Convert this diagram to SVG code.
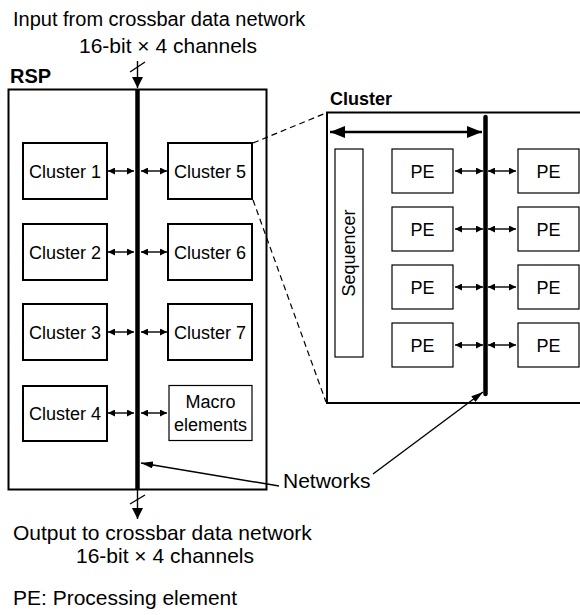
<svg xmlns="http://www.w3.org/2000/svg" width="580" height="615" viewBox="0 0 580 615">
<defs>
<style>
text{font-family:"Liberation Sans",Arial,sans-serif;fill:#000}
.lbl{font-size:20px}
.lbl2{font-size:21px}
.cl{font-size:18px}
.pe{font-size:18px}
.bold{font-weight:bold}
.thick{fill:#fff;stroke:#000;stroke-width:2}
.thin{fill:#fff;stroke:#000;stroke-width:1.2}
.ln{stroke:#000;stroke-width:1.4;fill:none}
.bus{stroke:#000;stroke-width:4.5;fill:none}
.dash{stroke:#000;stroke-width:1.2;fill:none;stroke-dasharray:6,4}
</style>
<marker id="sa" viewBox="0 0 10 10" refX="10" refY="5" markerWidth="7" markerHeight="7" markerUnits="userSpaceOnUse" orient="auto-start-reverse"><path d="M0,0 L10,5 L0,10 z" fill="#000"/></marker>
<marker id="ba" viewBox="0 0 10 10" refX="10" refY="5" markerWidth="11" markerHeight="11" markerUnits="userSpaceOnUse" orient="auto"><path d="M0,0 L10,5 L0,10 z" fill="#000"/></marker>
<marker id="ha" viewBox="0 0 10 10" refX="10" refY="5" markerWidth="15" markerHeight="12" markerUnits="userSpaceOnUse" orient="auto-start-reverse" preserveAspectRatio="none"><path d="M0,0 L10,5 L0,10 z" fill="#000"/></marker>
<marker id="na" viewBox="0 0 10 10" refX="10" refY="5" markerWidth="12" markerHeight="7" markerUnits="userSpaceOnUse" orient="auto" preserveAspectRatio="none"><path d="M0,0 L10,5 L0,10 z" fill="#000"/></marker>
</defs>

<g id="rsp">
<rect class="thick" x="8.5" y="89.5" width="258" height="400"/>
<text class="lbl bold" x="10" y="83">RSP</text>
</g>

<g id="cluster1"><rect class="thick" x="23" y="143" width="84" height="56"/><text class="cl" x="65" y="177.5" text-anchor="middle">Cluster 1</text></g>
<g id="cluster2"><rect class="thick" x="23" y="224" width="84" height="56"/><text class="cl" x="65" y="258.5" text-anchor="middle">Cluster 2</text></g>
<g id="cluster3"><rect class="thick" x="23" y="304" width="84" height="56"/><text class="cl" x="65" y="338.5" text-anchor="middle">Cluster 3</text></g>
<g id="cluster4"><rect class="thick" x="23" y="386" width="84" height="55"/><text class="cl" x="65" y="420" text-anchor="middle">Cluster 4</text></g>
<g id="cluster5"><rect class="thick" x="168" y="143" width="84" height="56"/><text class="cl" x="210" y="177.5" text-anchor="middle">Cluster 5</text></g>
<g id="cluster6"><rect class="thick" x="168" y="224" width="84" height="56"/><text class="cl" x="210" y="258.5" text-anchor="middle">Cluster 6</text></g>
<g id="cluster7"><rect class="thick" x="168" y="304" width="84" height="56"/><text class="cl" x="210" y="338.5" text-anchor="middle">Cluster 7</text></g>
<g id="macro"><rect class="thin" x="169" y="385.5" width="83" height="55"/><text class="cl" x="210.5" y="408" text-anchor="middle">Macro</text><text class="cl" x="210.5" y="431" text-anchor="middle">elements</text></g>

<g id="cluster-detail">
<rect class="thick" x="327" y="112.5" width="260" height="290.5"/>
<text class="cl bold" x="330" y="105">Cluster</text>
</g>
<g id="sequencer"><rect class="thin" x="335" y="149" width="28" height="208"/><text class="cl" transform="translate(355,253) rotate(-90)" text-anchor="middle">Sequencer</text></g>
<g id="pe1"><rect class="thin" x="392" y="149" width="61" height="44"/><text class="pe" x="422.5" y="177.5" text-anchor="middle">PE</text></g>
<g id="pe2"><rect class="thin" x="392" y="207" width="61" height="44"/><text class="pe" x="422.5" y="235.5" text-anchor="middle">PE</text></g>
<g id="pe3"><rect class="thin" x="392" y="265" width="61" height="44"/><text class="pe" x="422.5" y="293.5" text-anchor="middle">PE</text></g>
<g id="pe4"><rect class="thin" x="392" y="323" width="61" height="44"/><text class="pe" x="422.5" y="351.5" text-anchor="middle">PE</text></g>
<g id="pe5"><rect class="thin" x="518" y="149" width="61" height="44"/><text class="pe" x="548.5" y="177.5" text-anchor="middle">PE</text></g>
<g id="pe6"><rect class="thin" x="518" y="207" width="61" height="44"/><text class="pe" x="548.5" y="235.5" text-anchor="middle">PE</text></g>
<g id="pe7"><rect class="thin" x="518" y="265" width="61" height="44"/><text class="pe" x="548.5" y="293.5" text-anchor="middle">PE</text></g>
<g id="pe8"><rect class="thin" x="518" y="323" width="61" height="44"/><text class="pe" x="548.5" y="351.5" text-anchor="middle">PE</text></g>

<g id="labels">
<text class="lbl" x="13" y="26">Input from crossbar data network</text>
<text class="lbl2" x="168" y="53" text-anchor="middle">16-bit × 4 channels</text>
<text class="lbl2" x="13" y="540">Output to crossbar data network</text>
<text class="lbl2" x="165" y="563" text-anchor="middle">16-bit × 4 channels</text>
<text class="lbl2" x="13" y="605">PE: Processing element</text>
<text class="lbl2" x="283" y="488">Networks</text>
</g>

<g id="connectors">
<line class="bus" x1="137.5" y1="89" x2="137.5" y2="490"/>
<line class="ln" x1="137.5" y1="61" x2="137.5" y2="88" marker-end="url(#ba)"/>
<line class="ln" x1="130" y1="72" x2="145" y2="62"/>
<line class="ln" x1="137.5" y1="490" x2="137.5" y2="519" marker-end="url(#ba)"/>
<line class="ln" x1="130" y1="504" x2="145" y2="495"/>

<line class="ln" x1="108" y1="171" x2="134" y2="171" marker-start="url(#sa)" marker-end="url(#sa)"/>
<line class="ln" x1="141" y1="171" x2="167" y2="171" marker-start="url(#sa)" marker-end="url(#sa)"/>
<line class="ln" x1="108" y1="252" x2="134" y2="252" marker-start="url(#sa)" marker-end="url(#sa)"/>
<line class="ln" x1="141" y1="252" x2="167" y2="252" marker-start="url(#sa)" marker-end="url(#sa)"/>
<line class="ln" x1="108" y1="332" x2="134" y2="332" marker-start="url(#sa)" marker-end="url(#sa)"/>
<line class="ln" x1="141" y1="332" x2="167" y2="332" marker-start="url(#sa)" marker-end="url(#sa)"/>
<line class="ln" x1="108" y1="413" x2="134" y2="413" marker-start="url(#sa)" marker-end="url(#sa)"/>
<line class="ln" x1="141" y1="413" x2="167" y2="413" marker-start="url(#sa)" marker-end="url(#sa)"/>

<line class="dash" x1="253" y1="143" x2="326" y2="113"/>
<line class="dash" x1="253" y1="200" x2="326" y2="402"/>

<line x1="485.5" y1="117" x2="485.5" y2="394" stroke="#000" stroke-width="4.5" stroke-linecap="round"/>
<line x1="330" y1="132" x2="482" y2="132" stroke="#000" stroke-width="2.5" marker-start="url(#ha)" marker-end="url(#ha)"/>

<line class="ln" x1="455" y1="171" x2="483" y2="171" marker-start="url(#sa)" marker-end="url(#sa)"/>
<line class="ln" x1="488" y1="171" x2="516" y2="171" marker-start="url(#sa)" marker-end="url(#sa)"/>
<line class="ln" x1="455" y1="229" x2="483" y2="229" marker-start="url(#sa)" marker-end="url(#sa)"/>
<line class="ln" x1="488" y1="229" x2="516" y2="229" marker-start="url(#sa)" marker-end="url(#sa)"/>
<line class="ln" x1="455" y1="287" x2="483" y2="287" marker-start="url(#sa)" marker-end="url(#sa)"/>
<line class="ln" x1="488" y1="287" x2="516" y2="287" marker-start="url(#sa)" marker-end="url(#sa)"/>
<line class="ln" x1="455" y1="345" x2="483" y2="345" marker-start="url(#sa)" marker-end="url(#sa)"/>
<line class="ln" x1="488" y1="345" x2="516" y2="345" marker-start="url(#sa)" marker-end="url(#sa)"/>

<line class="ln" x1="279" y1="486" x2="141" y2="463" marker-end="url(#na)"/>
<line class="ln" x1="373" y1="474" x2="483" y2="392" marker-end="url(#na)"/>
</g>
</svg>
